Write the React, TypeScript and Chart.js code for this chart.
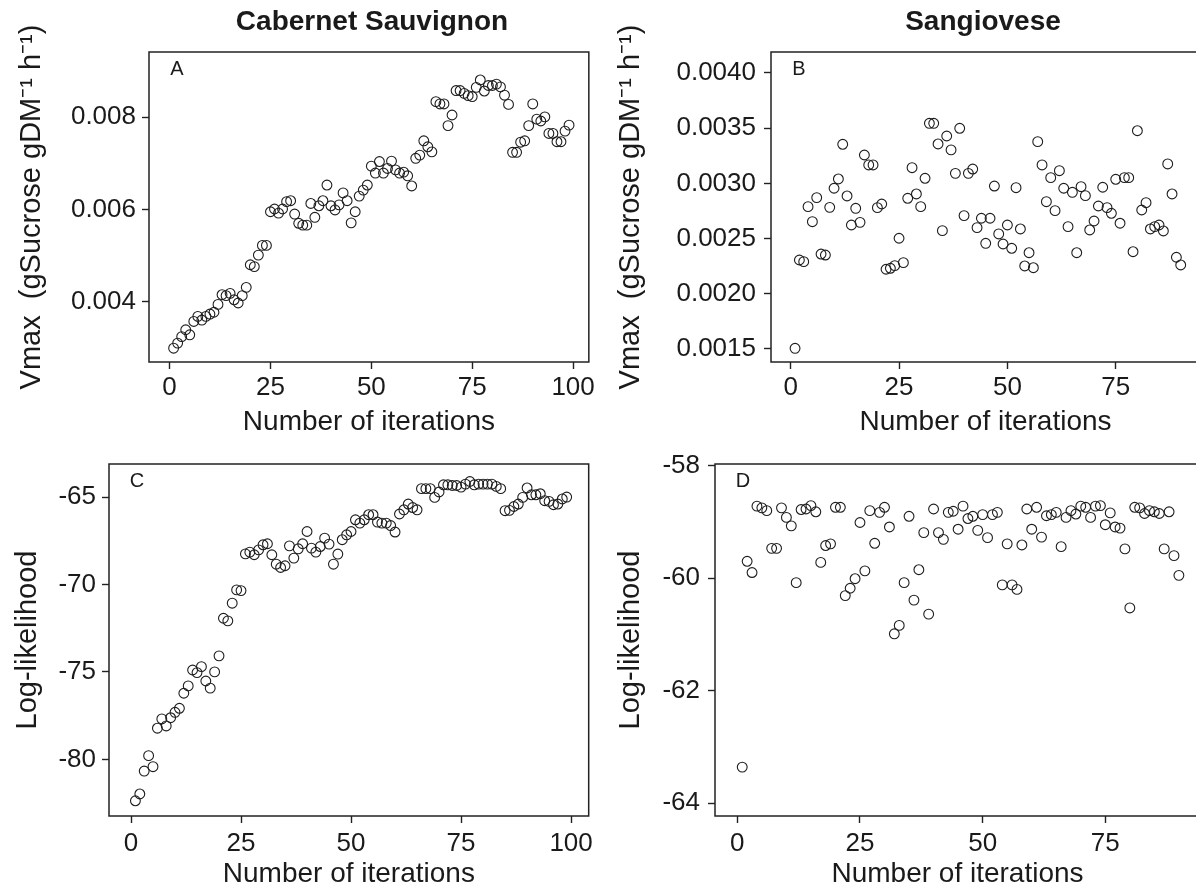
import React, { useEffect, useRef } from "react";
import { Chart, registerables } from "chart.js";

Chart.register(...registerables);

const FONT = '"Liberation Sans", Arial, Helvetica, sans-serif';

// ---------- Data ----------
// Panel A: Cabernet Sauvignon, Vmax per iteration (iterations 1..99)
const vmaxCabernet: number[] = [
  0.00299, 0.0031, 0.00324, 0.00339, 0.00328, 0.00357, 0.00368, 0.0036, 0.00368, 0.00373,
  0.00377, 0.00394, 0.00415, 0.00413, 0.00418, 0.00404, 0.00397, 0.00413, 0.00431, 0.0048,
  0.00476, 0.00501, 0.00522, 0.00522, 0.00595, 0.00601, 0.00592, 0.00601, 0.00617, 0.00619,
  0.0059, 0.0057, 0.00566, 0.00566, 0.00613, 0.00583, 0.00608, 0.00619, 0.00653, 0.00608,
  0.00599, 0.0061, 0.00636, 0.00619, 0.00571, 0.00595, 0.00629, 0.00642, 0.00653, 0.00694,
  0.00679, 0.00704, 0.00679, 0.00689, 0.00705, 0.00686, 0.00679, 0.00681, 0.00673, 0.00651,
  0.00711, 0.00718, 0.00749, 0.00736, 0.00725, 0.00834, 0.00829, 0.00829, 0.00782, 0.00805,
  0.00858, 0.00858, 0.00852, 0.00847, 0.00845, 0.00865, 0.00881, 0.00857, 0.00869, 0.00869,
  0.00872, 0.00866, 0.00848, 0.00828, 0.00724, 0.00724, 0.00746, 0.00749, 0.00782, 0.00829,
  0.00796, 0.00792, 0.00801, 0.00765, 0.00765, 0.00747, 0.00747, 0.0077, 0.00783,
];

// Panel B: Sangiovese, Vmax per iteration (iterations 1..90)
const vmaxSangiovese: number[] = [
  0.001506, 0.002306, 0.002291, 0.002789, 0.002653, 0.002871, 0.00236, 0.002351, 0.002783, 0.002956,
  0.00304, 0.003354, 0.002886, 0.002623, 0.002774, 0.002647, 0.003257, 0.003167, 0.003167, 0.00278,
  0.002813, 0.002222, 0.002231, 0.002255, 0.002503, 0.002282, 0.002865, 0.003142, 0.002904, 0.002789,
  0.003046, 0.003544, 0.003544, 0.003357, 0.002572, 0.003429, 0.003303, 0.003091, 0.003499, 0.002708,
  0.003091, 0.00313, 0.002599, 0.002684, 0.002457, 0.002684, 0.002976, 0.002542, 0.002451, 0.002623,
  0.002412, 0.002961, 0.002587, 0.002252, 0.002372, 0.002236, 0.003378, 0.003167, 0.002834, 0.003052,
  0.002753, 0.003115, 0.002956, 0.002608, 0.002919, 0.002372, 0.00297, 0.002889, 0.002578, 0.002659,
  0.002795, 0.002965, 0.00278, 0.002729, 0.003037, 0.002639, 0.003052, 0.003052, 0.002381, 0.003477,
  0.002759, 0.002825, 0.002587, 0.002608, 0.002623, 0.002569, 0.003176, 0.002904, 0.002331, 0.002261,
];

// Panel C: Cabernet Sauvignon, log-likelihood per iteration (1..99)
const loglikCabernet: number[] = [
  -82.37, -81.98, -80.67, -79.79, -80.42, -78.22, -77.69, -78.09, -77.62, -77.31,
  -77.08, -76.22, -75.8, -74.89, -75.04, -74.7, -75.52, -75.93, -75.0, -74.08,
  -71.93, -72.08, -71.07, -70.31, -70.35, -68.25, -68.15, -68.3, -68.02, -67.73,
  -67.67, -68.3, -68.84, -69.03, -68.93, -67.79, -68.49, -67.96, -67.67, -66.97,
  -67.92, -68.15, -67.83, -67.35, -67.69, -68.84, -68.26, -67.44, -67.16, -66.97,
  -66.3, -66.49, -66.3, -66.01, -66.01, -66.43, -66.49, -66.49, -66.63, -67.0,
  -65.97, -65.73, -65.4, -65.6, -65.73, -64.52, -64.52, -64.52, -65.02, -64.71,
  -64.3, -64.3, -64.34, -64.34, -64.43, -64.26, -64.11, -64.3, -64.26, -64.26,
  -64.26, -64.26, -64.39, -64.52, -65.78, -65.76, -65.54, -65.4, -65.02, -64.48,
  -64.87, -64.87, -64.81, -65.21, -65.25, -65.44, -65.4, -65.11, -65.0,
];

// Panel D: Sangiovese, log-likelihood per iteration (1..90)
const loglikSangiovese: number[] = [
  -63.36, -59.7, -59.9, -58.72, -58.75, -58.8, -59.47, -59.47, -58.75, -58.92,
  -59.07, -60.08, -58.78, -58.77, -58.71, -58.82, -59.72, -59.42, -59.39, -58.74,
  -58.74, -60.31, -60.18, -60.01, -59.01, -59.87, -58.8, -59.38, -58.83, -58.74,
  -59.09, -60.99, -60.84, -60.08, -58.9, -60.39, -59.85, -59.19, -60.64, -58.77,
  -59.19, -59.31, -58.83, -58.81, -59.13, -58.72, -58.94, -58.9, -59.15, -58.87,
  -59.28, -58.87, -58.83, -60.12, -59.39, -60.12, -60.2, -59.41, -58.77, -59.13,
  -58.74, -59.27, -58.89, -58.87, -58.83, -59.44, -58.92, -58.8, -58.86, -58.72,
  -58.74, -58.92, -58.72, -58.71, -59.05, -58.84, -59.09, -59.11, -59.48, -60.53,
  -58.74, -58.75, -58.85, -58.8, -58.82, -58.85, -59.48, -58.82, -59.6, -59.95,
];

// Tick values and labels
const xTicksLeft = [0, 25, 50, 75, 100];
const xLabelsLeft = ["0", "25", "50", "75", "100"];
const xTicksRight = [0, 25, 50, 75];
const xLabelsRight = ["0", "25", "50", "75"];
const yTicksA = [0.004, 0.006, 0.008];
const yLabelsA = ["0.004", "0.006", "0.008"];
const yTicksB = [0.0015, 0.002, 0.0025, 0.003, 0.0035, 0.004];
const yLabelsB = ["0.0015", "0.0020", "0.0025", "0.0030", "0.0035", "0.0040"];
const yTicksC = [-80, -75, -70, -65];
const yLabelsC = ["-80", "-75", "-70", "-65"];
const yTicksD = [-64, -62, -60, -58];
const yLabelsD = ["-64", "-62", "-60", "-58"];

const titleCabernet = "Cabernet Sauvignon";
const titleSangiovese = "Sangiovese";
const xAxisTitle = "Number of iterations";
const yTitleVmax = "Vmax  (gSucrose gDM\u207B\u00B9 h\u207B\u00B9)";
const yTitleLL = "Log-likelihood";

// ---------- Panel layout specs ----------
type Spec = {
  key: string;
  left: number;
  top: number;
  w: number;
  h: number;
  pad: { top: number; right: number; bottom: number; left: number };
  yWidth: number;
  xHeight: number;
  xTickPad: number;
  yTickPad: number;
  yTitlePad: number;
  values: number[];
  xMin: number;
  xMax: number;
  yMin: number;
  yMax: number;
  xTicks: number[];
  xLabels: string[];
  yTicks: number[];
  yLabels: string[];
  yTitle: string;
  letter: string;
  title?: string;
  titleX?: number;
};

const specs: Spec[] = [
  {
    key: "A", left: 0, top: 0, w: 598, h: 439,
    pad: { top: 52, right: 3, bottom: 0, left: 0 },
    yWidth: 149, xHeight: 77, xTickPad: 3, yTickPad: 6, yTitlePad: 15,
    values: vmaxCabernet, xMin: -5.1, xMax: 103.9, yMin: 0.00269, yMax: 0.009417,
    xTicks: xTicksLeft, xLabels: xLabelsLeft, yTicks: yTicksA, yLabels: yLabelsA,
    yTitle: yTitleVmax, letter: "A", title: titleCabernet, titleX: 372,
  },
  {
    key: "B", left: 598, top: 0, w: 612, h: 439,
    pad: { top: 52, right: 10, bottom: 0, left: 0 },
    yWidth: 173, xHeight: 77, xTickPad: 3, yTickPad: 8, yTitlePad: 15.6,
    values: vmaxSangiovese, xMin: -4.55, xMax: 94.45, yMin: 0.001382, yMax: 0.00419,
    xTicks: xTicksRight, xLabels: xLabelsRight, yTicks: yTicksB, yLabels: yLabelsB,
    yTitle: yTitleVmax, letter: "B", title: titleSangiovese, titleX: 385,
  },
  {
    key: "C", left: 0, top: 439, w: 598, h: 452,
    pad: { top: 25, right: 2, bottom: 0, left: 0 },
    yWidth: 109, xHeight: 75, xTickPad: 5, yTickPad: 6, yTitlePad: 10.6,
    values: loglikCabernet, xMin: -5.0, xMax: 104.0, yMin: -83.24, yMax: -63.11,
    xTicks: xTicksLeft, xLabels: xLabelsLeft, yTicks: yTicksC, yLabels: yLabelsC,
    yTitle: yTitleLL, letter: "C",
  },
  {
    key: "D", left: 598, top: 439, w: 612, h: 452,
    pad: { top: 25, right: 10, bottom: 0, left: 0 },
    yWidth: 117, xHeight: 75, xTickPad: 5, yTickPad: 8, yTitlePad: 15.6,
    values: loglikSangiovese, xMin: -4.55, xMax: 94.3, yMin: -64.23, yMax: -57.97,
    xTicks: xTicksRight, xLabels: xLabelsRight, yTicks: yTicksD, yLabels: yLabelsD,
    yTitle: yTitleLL, letter: "D",
  },
];

const INK = "#1a1a1a";

const panelPlugin = {
  id: "panelDecor",
  afterDraw(chart: any, _args: any, opts: any) {
    const { ctx, chartArea: a } = chart;
    ctx.save();
    ctx.strokeStyle = "#222";
    ctx.lineWidth = 1.5;
    ctx.strokeRect(a.left, a.top, a.right - a.left, a.bottom - a.top);
    ctx.fillStyle = INK;
    ctx.font = `20px ${FONT}`;
    ctx.textAlign = "center";
    ctx.textBaseline = "middle";
    ctx.fillText(opts.letter, a.left + 28, a.top + 17);
    if (opts.title) {
      ctx.font = `bold 28px ${FONT}`;
      ctx.textBaseline = "alphabetic";
      ctx.fillText(opts.title, opts.titleX, 30);
    }
    ctx.restore();
  },
};

function Panel({ spec }: { spec: Spec }) {
  const ref = useRef<HTMLCanvasElement | null>(null);

  useEffect(() => {
    if (!ref.current) return;
    const s = spec;
    const chart = new Chart(ref.current, {
      type: "scatter",
      data: {
        datasets: [
          {
            data: s.values.map((v, i) => ({ x: i + 1, y: v })),
            pointStyle: "circle",
            pointRadius: 4.9,
            pointBorderWidth: 1.1,
            pointBorderColor: "#1e1e1e",
            pointBackgroundColor: "rgba(0,0,0,0)",
            showLine: false,
          },
        ],
      },
      options: {
        responsive: false,
        animation: false,
        devicePixelRatio: 1,
        events: [],
        layout: { padding: s.pad },
        plugins: {
          legend: { display: false },
          tooltip: { enabled: false },
          title: { display: false },
          panelDecor: { letter: s.letter, title: s.title, titleX: s.titleX },
        } as any,
        scales: {
          x: {
            type: "linear",
            min: s.xMin,
            max: s.xMax,
            afterBuildTicks: (axis: any) => {
              axis.ticks = s.xTicks.map((v) => ({ value: v }));
            },
            afterFit: (axis: any) => {
              axis.height = s.xHeight;
            },
            border: { display: false },
            grid: {
              display: true,
              drawOnChartArea: false,
              drawTicks: true,
              tickLength: 7,
              tickWidth: 1.4,
              tickColor: "#222",
              color: "#222",
            },
            ticks: {
              autoSkip: false,
              maxRotation: 0,
              padding: s.xTickPad,
              color: INK,
              font: { family: FONT, size: 26 },
              callback: (_v: any, i: number) => s.xLabels[i],
            },
            title: {
              display: true,
              text: xAxisTitle,
              color: INK,
              font: { family: FONT, size: 28 },
              padding: { top: 0, bottom: 0 },
            },
          },
          y: {
            type: "linear",
            min: s.yMin,
            max: s.yMax,
            afterBuildTicks: (axis: any) => {
              axis.ticks = s.yTicks.map((v) => ({ value: v }));
            },
            afterFit: (axis: any) => {
              axis.width = s.yWidth;
            },
            border: { display: false },
            grid: {
              display: true,
              drawOnChartArea: false,
              drawTicks: true,
              tickLength: 7,
              tickWidth: 1.4,
              tickColor: "#222",
              color: "#222",
            },
            ticks: {
              autoSkip: false,
              padding: s.yTickPad,
              color: INK,
              font: { family: FONT, size: 26 },
              callback: (_v: any, i: number) => s.yLabels[i],
            },
            title: {
              display: true,
              text: s.yTitle,
              color: INK,
              font: { family: FONT, size: 29 },
              padding: { top: s.yTitlePad, bottom: 0 },
            },
          },
        },
      },
      plugins: [panelPlugin],
    } as any);
    return () => chart.destroy();
  }, [spec]);

  return (
    <canvas
      ref={ref}
      width={spec.w}
      height={spec.h}
      style={{
        position: "absolute",
        left: spec.left,
        top: spec.top,
        width: spec.w,
        height: spec.h,
      }}
    />
  );
}

export default function App() {
  return (
    <div
      style={{
        position: "fixed",
        left: 0,
        top: 0,
        width: 1196,
        height: 892,
        overflow: "hidden",
        background: "#ffffff",
      }}
    >
      {specs.map((s) => (
        <Panel key={s.key} spec={s} />
      ))}
    </div>
  );
}
